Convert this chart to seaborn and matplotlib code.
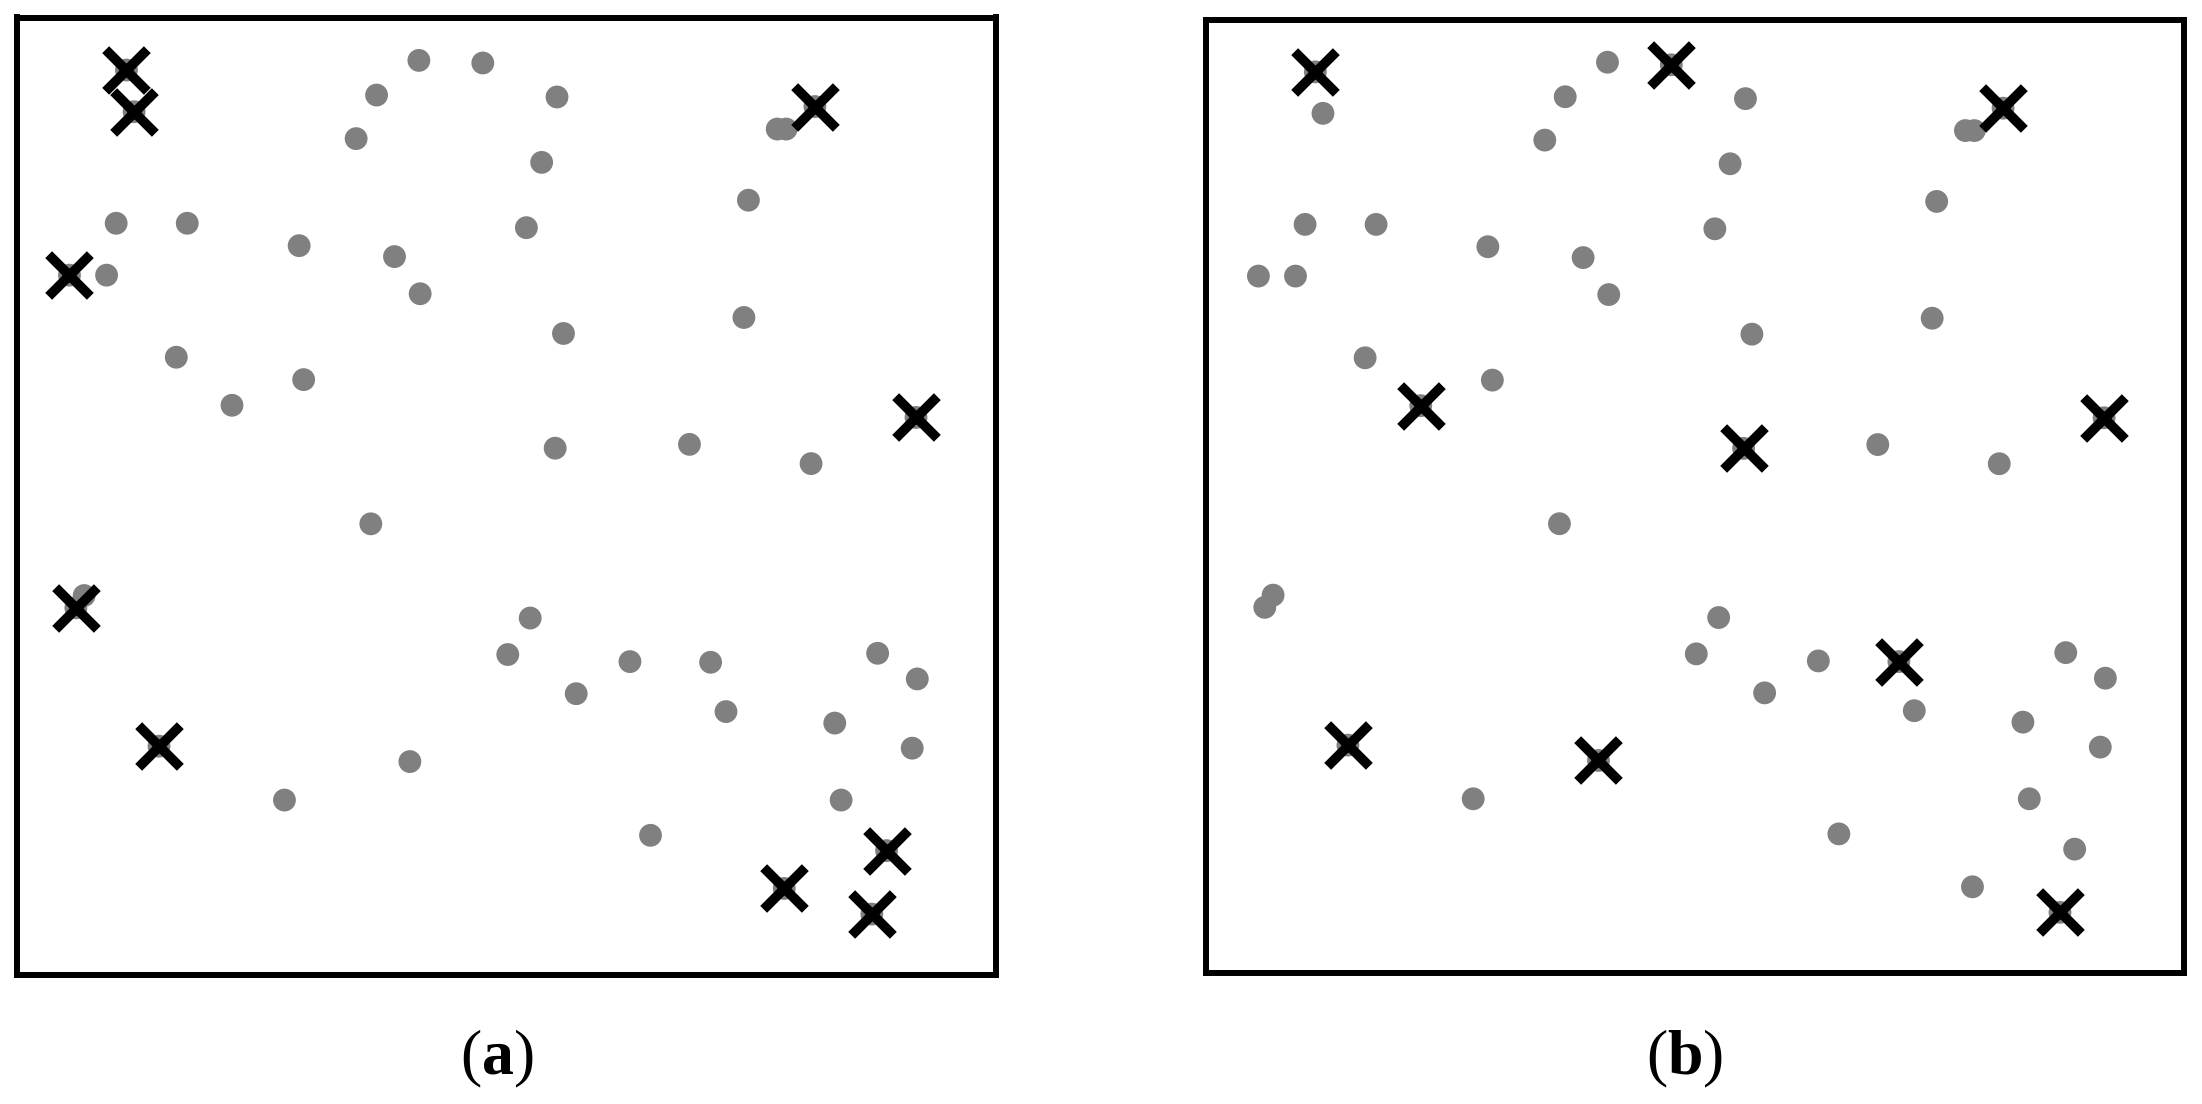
import numpy as np
import pandas as pd
import matplotlib
matplotlib.use("Agg")
import matplotlib.pyplot as plt
import seaborn as sns

# point set (same in both panels), coordinates on a 0-100 square
pts_x = [11.18, 47.58, 81.50, 21.96, 54.97, 91.83, 70.85, 14.51, 40.13, 87.32,
         11.96, 5.36, 6.01, 88.82, 78.37,
         41.05, 36.73, 55.16, 34.64, 53.59, 77.65, 78.56, 74.71, 10.13, 17.39,
         52.03, 28.82, 38.56, 9.15, 41.18, 55.82, 74.25, 16.27, 29.28, 68.69,
         81.11, 36.14, 6.86, 52.42, 50.13, 62.61, 87.91, 91.96, 57.12, 72.42,
         83.53, 91.44, 27.32, 84.18, 64.71]
pts_y = [94.51, 95.25, 90.70, 59.50, 55.02, 58.23, 32.66, 23.90, 22.29, 6.36,
         90.16, 73.09, 38.35, 12.99, 9.04,
         95.52, 91.90, 91.70, 87.35, 84.87, 88.35, 88.35, 80.92, 78.51, 78.51,
         78.05, 76.17, 75.03, 73.09, 71.15, 67.00, 68.67, 64.52, 62.18, 55.42,
         53.41, 47.12, 39.63, 37.28, 33.47, 32.73, 33.60, 30.92, 29.38, 27.51,
         26.31, 23.69, 18.27, 18.27, 14.59]

# indices of the points marked with a cross in each panel
centers_a = [0, 10, 11, 2, 5, 12, 7, 13, 14, 9]
centers_b = [0, 1, 2, 3, 4, 5, 6, 7, 8, 9]

panel_labels = ["a", "b"]

df = pd.DataFrame({"x": pts_x, "y": pts_y})

sns.set_style("white")
plt.rcParams["mathtext.fontset"] = "custom"
plt.rcParams["mathtext.bf"] = "Liberation Serif:bold"
plt.rcParams["mathtext.rm"] = "Liberation Serif"

fig = plt.figure(figsize=(22.02, 11.04), dpi=100)
positions = [[17 / 2202, 1 - 975 / 1104, 979 / 2202, 957.5 / 1104],
             [1206 / 2202, 1 - 973 / 1104, 978 / 2202, 953.5 / 1104]]
label_x = [497 / 2202, 1685 / 2202]

for pos, centers, lab, lx in zip(positions, [centers_a, centers_b], panel_labels, label_x):
    ax = fig.add_axes(pos)
    sns.scatterplot(data=df, x="x", y="y", ax=ax, color="#808080", s=270,
                    edgecolor="none", linewidth=0, legend=False)
    sel = df.iloc[centers]
    sns.scatterplot(data=sel, x="x", y="y", ax=ax, marker="x", color="black",
                    s=900, linewidth=7, legend=False)
    ax.set_xlim(0, 100)
    ax.set_ylim(0, 100)
    ax.set_xticks([])
    ax.set_yticks([])
    ax.set_xlabel("")
    ax.set_ylabel("")
    for sp in ax.spines.values():
        sp.set_visible(True)
        sp.set_color("black")
        sp.set_linewidth(4.3)
        sp.set_capstyle("projecting")
    fig.text(lx, 1 - 1059 / 1104, "(" + r"$\mathbf{" + lab + "}$" + ")",
             ha="center", va="center", fontsize=46, color="black",
             family="Liberation Serif")

fig.savefig("out.png", dpi=100)
